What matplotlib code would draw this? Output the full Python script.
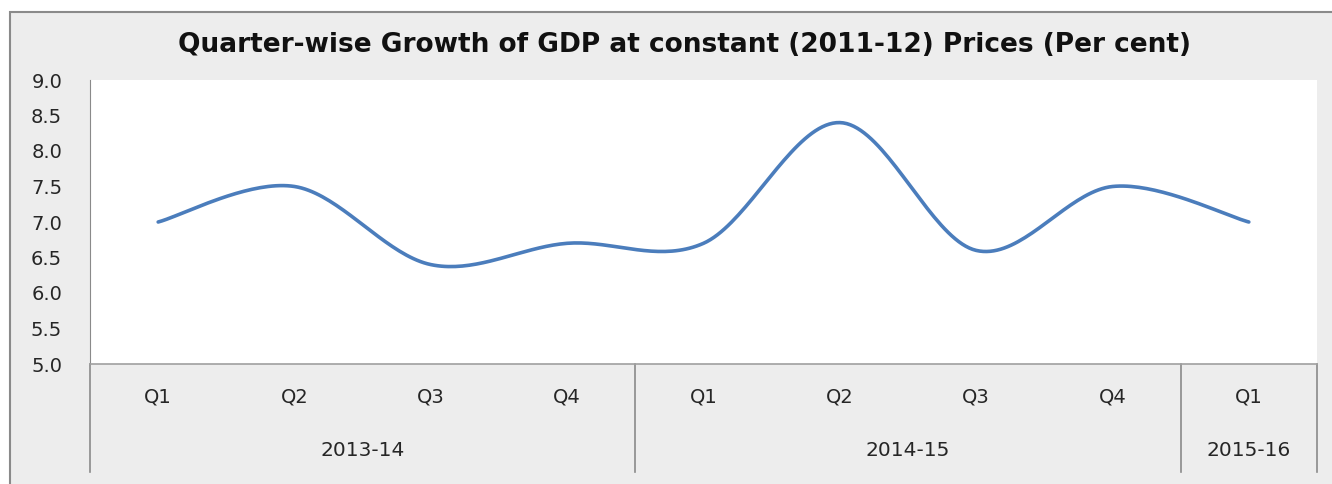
import numpy as np
import matplotlib
matplotlib.use("Agg")
import matplotlib.pyplot as plt
from matplotlib.transforms import blended_transform_factory

# quarter-wise GDP growth, per cent
quarters = ["Q1", "Q2", "Q3", "Q4", "Q1", "Q2", "Q3", "Q4", "Q1"]
growth = [7.0, 7.5, 6.4, 6.7, 6.7, 8.4, 6.6, 7.5, 7.0]
years = ["2013-14", "2014-15", "2015-16"]
year_counts = [4, 4, 1]
y_ticks = [5.0, 5.5, 6.0, 6.5, 7.0, 7.5, 8.0, 8.5, 9.0]

TITLE = "Quarter-wise Growth of GDP at constant (2011-12) Prices (Per cent)"
W, H = 1332, 484


def smooth(x, y, n=40):
    """Excel-style smoothed line: cubic Bezier through each point pair."""
    x = np.asarray(x, float); y = np.asarray(y, float)
    px = np.concatenate([[x[0]], x, [x[-1]]])
    py = np.concatenate([[y[0]], y, [y[-1]]])
    t = np.linspace(0, 1, n)[:, None]
    xs, ys = [], []
    for i in range(1, len(px) - 2):
        p0 = np.array([px[i], py[i]])
        p3 = np.array([px[i + 1], py[i + 1]])
        c1 = p0 + (np.array([px[i + 1], py[i + 1]]) - np.array([px[i - 1], py[i - 1]])) / 6
        c2 = p3 - (np.array([px[i + 2], py[i + 2]]) - np.array([px[i], py[i]])) / 6
        b = ((1 - t) ** 3) * p0 + 3 * ((1 - t) ** 2) * t * c1 + 3 * (1 - t) * t ** 2 * c2 + t ** 3 * p3
        xs.append(b[:, 0]); ys.append(b[:, 1])
    return np.concatenate(xs), np.concatenate(ys)


fig = plt.figure(figsize=(W / 100, H / 100), dpi=100, facecolor="white")

# grey chart area (flat stand-in for the texture) with border
bg = fig.add_axes([0, 0, 1, 1], zorder=-5)
bg.set_xlim(0, W); bg.set_ylim(H, 0); bg.axis("off")
bg.add_patch(plt.Rectangle((10, 12), W, H, facecolor="#ededed", edgecolor="#8a8a8a", lw=1.5))

left, right, top, bottom = 90, 1317, 80, 364
ax = fig.add_axes([left / W, 1 - bottom / H, (right - left) / W, (bottom - top) / H])
ax.set_facecolor("white")

x = np.arange(len(growth))
sx, sy = smooth(x, growth)
ax.plot(sx, sy, color="#4b7dbc", lw=2.6, solid_capstyle="round")

TXT = "#262626"
ax.set_xlim(-0.5, len(growth) - 0.5)
ax.set_ylim(5.0, 9.0)
ax.set_yticks(y_ticks)
ax.set_yticklabels([f"{v:.1f}" for v in y_ticks], fontsize=14, color=TXT)
ax.tick_params(axis="y", length=0, pad=20)
ax.set_xticks([])
for s in ["top", "right"]:
    ax.spines[s].set_visible(False)
ax.spines["left"].set_color("#8a8a8a")
ax.spines["bottom"].set_color("#a0a0a0")
ax.spines["bottom"].set_linewidth(1.2)

# two-level category axis
tr = blended_transform_factory(ax.transData, ax.transAxes)
low = (bottom - 472) / (bottom - top)
q_y = (bottom - 397) / (bottom - top)
yr_y = (bottom - 450) / (bottom - top)
for i, q in enumerate(quarters):
    ax.text(i, q_y, q, transform=tr, ha="center", va="center", fontsize=14, color=TXT)

start = 0
bounds = [-0.5]
for name, cnt in zip(years, year_counts):
    mid = start + (cnt - 1) / 2
    ax.text(mid, yr_y, name, transform=tr, ha="center", va="center", fontsize=14.5, color=TXT)
    start += cnt
    bounds.append(start - 0.5)
for b in bounds:
    ax.plot([b, b], [0, low], transform=tr, color="#8a8a8a", lw=1.2, clip_on=False)

fig.text(685 / W, 1 - 45 / H, TITLE, ha="center", va="center", fontsize=19, fontweight="bold", color="#111111")

fig.savefig("out.png", dpi=100)
